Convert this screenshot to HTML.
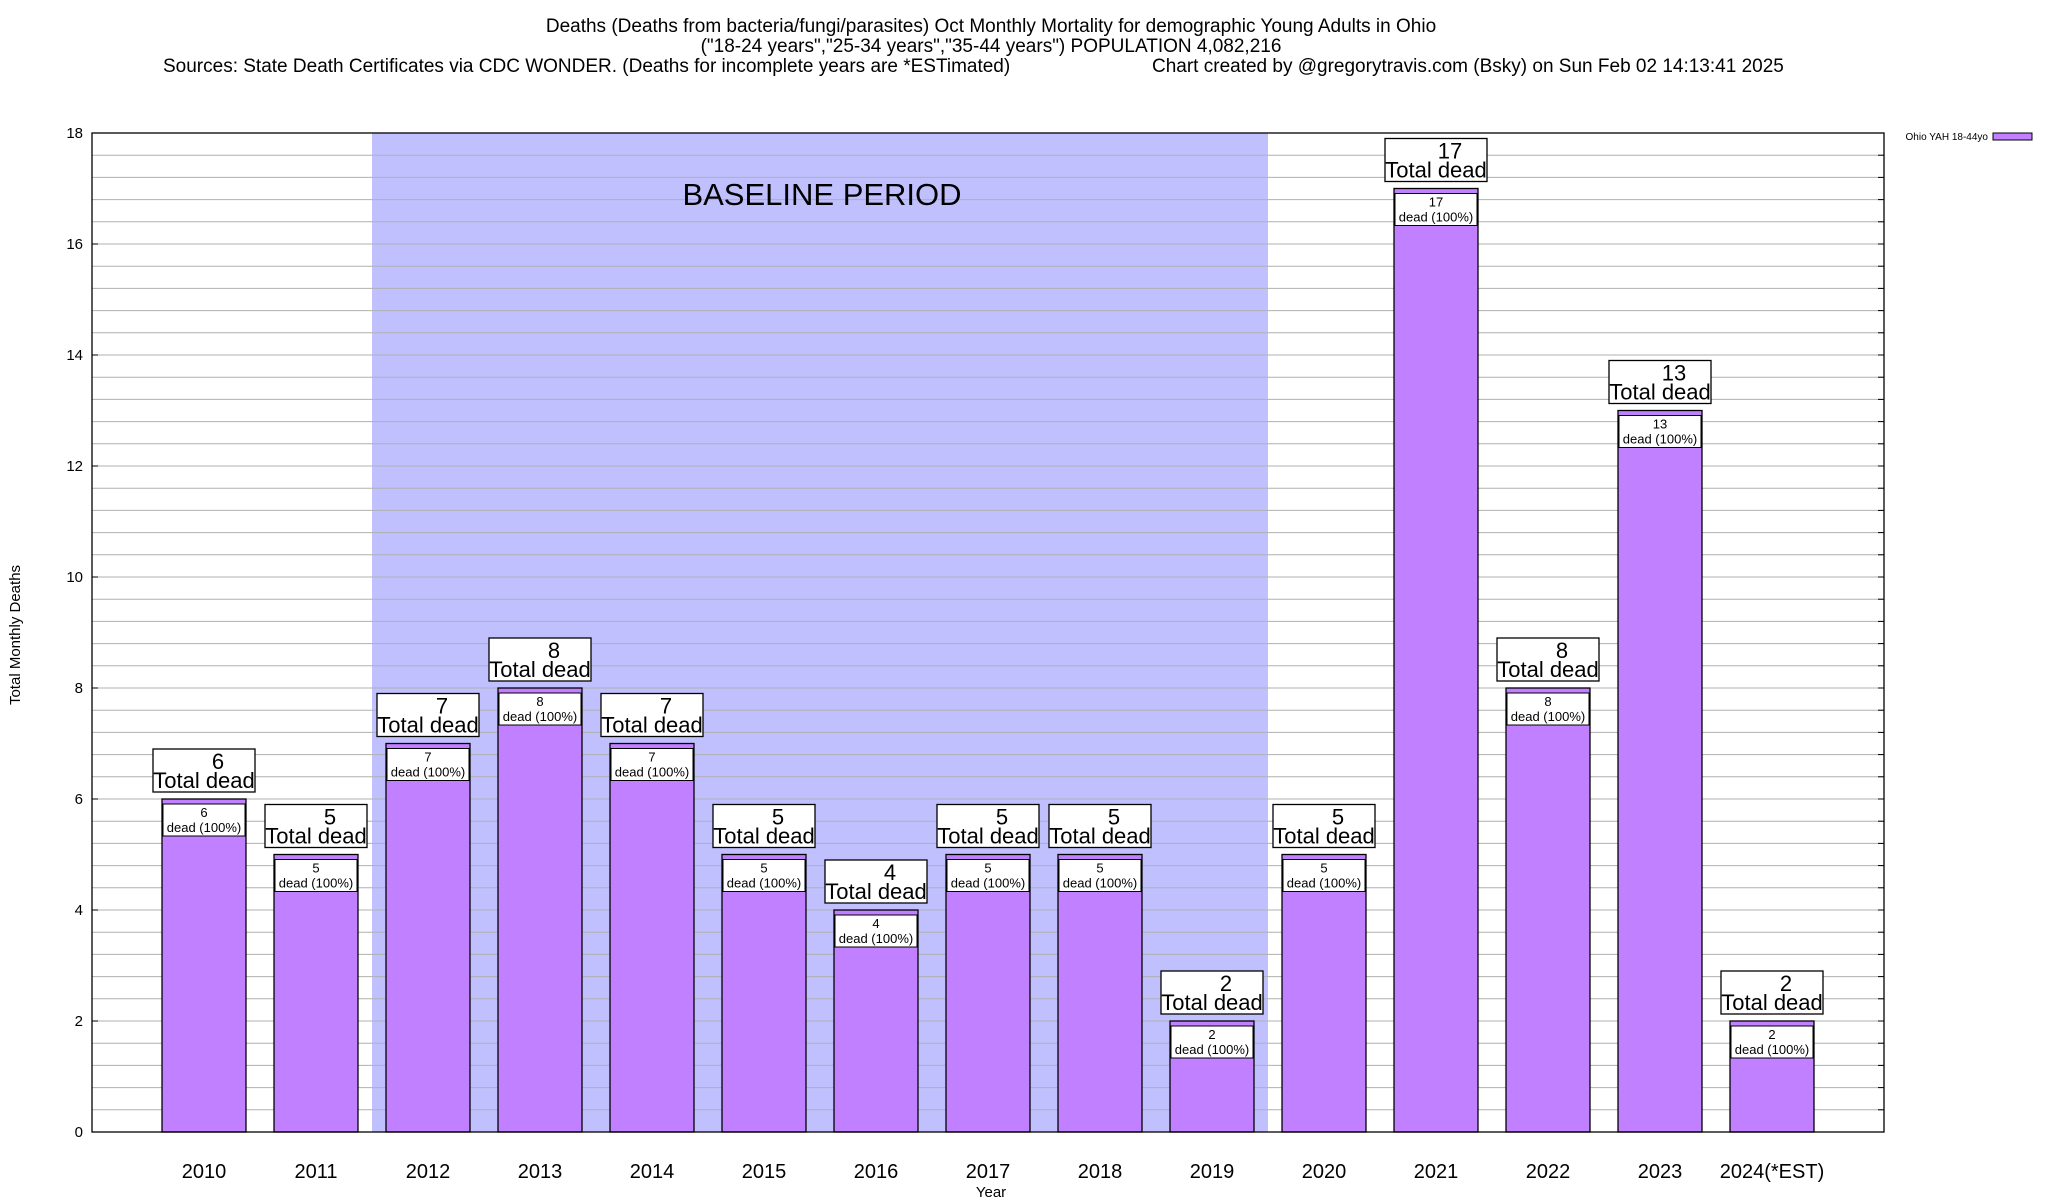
<!DOCTYPE html>
<html><head><meta charset="utf-8"><style>
html,body{margin:0;padding:0;background:#fff}
svg{display:block;font-family:"Liberation Sans",sans-serif}
</style></head><body>
<svg id="chart" width="2048" height="1200" viewBox="0 0 2048 1200" xmlns="http://www.w3.org/2000/svg">
<g font-size="19" text-anchor="middle" fill="#000">
<text x="991" y="32">Deaths (Deaths from bacteria/fungi/parasites) Oct Monthly Mortality for demographic Young Adults in Ohio</text>
<text x="991" y="52">("18-24 years","25-34 years","35-44 years") POPULATION 4,082,216</text>
<text x="163" y="72" text-anchor="start">Sources: State Death Certificates via CDC WONDER. (Deaths for incomplete years are *ESTimated)</text>
<text x="1152" y="72" text-anchor="start">Chart created by @gregorytravis.com (Bsky) on Sun Feb 02 14:13:41 2025</text>
</g>
<g id="plot"></g>
<text x="20" y="635" font-size="15" text-anchor="middle" transform="rotate(-90 20 635)">Total Monthly Deaths</text>
<text x="991" y="1197" font-size="15" text-anchor="middle">Year</text>
<g>
<text x="1988" y="140" font-size="10" text-anchor="end">Ohio YAH 18-44yo</text>
<rect x="1993" y="133" width="39" height="7" fill="#c080ff" stroke="#000" stroke-width="1"/>
</g>
</svg>
<script>
const categories = ["2010","2011","2012","2013","2014","2015","2016","2017","2018","2019","2020","2021","2022","2023","2024(*EST)"];
const deaths = [6,5,7,8,7,5,4,5,5,2,5,17,8,13,2];
const yTicks = [0,2,4,6,8,10,12,14,16,18];
const baselineStart = 1.5, baselineEnd = 9.5;

const L=92, R=1884, T=133, B=1132, yMax=18;
const xs = i => L + (i+1) * (R-L)/16;
const ys = v => B - v*(B-T)/yMax;
const NS="http://www.w3.org/2000/svg";
const plot=document.getElementById('plot');
function mk(tag, attrs, parent){const e=document.createElementNS(NS,tag);for(const k in attrs)e.setAttribute(k,attrs[k]);(parent||plot).appendChild(e);return e;}

const shade=mk('rect',{x:xs(baselineStart),y:T,width:xs(baselineEnd)-xs(baselineStart),height:B-T,fill:'#c0c0ff'});


for(let v=0; v<=yMax+0.001; v+=0.4){
  const y=ys(v);
  const g=mk('line',{x1:L,x2:R,y1:y,y2:y,stroke:'#b0b0b0','stroke-width':1});
  
  
  mk('line',{x1:R-6,x2:R,y1:y,y2:y,stroke:'#000','stroke-width':1});
}
const bt=mk('text',{x:822,y:205,'font-size':31,'text-anchor':'middle'});
bt.textContent='BASELINE PERIOD';


yTicks.forEach(v=>{
  const t=mk('text',{x:83,y:ys(v)+5,'font-size':15,'text-anchor':'end'});
  t.textContent=v;
  
  
  mk('line',{x1:L,x2:L+6,y1:ys(v),y2:ys(v),stroke:'#000'});
});
const bw=84;
categories.forEach((c,i)=>{
  const cx=xs(i), v=deaths[i], top=ys(v);
  const bar=mk('rect',{x:cx-bw/2,y:top,width:bw,height:B-top,fill:'#c080ff',stroke:'#000','stroke-width':1.3});
  
  
  const ib=mk('rect',{x:cx-41,y:top+5,width:82,height:32,fill:'#fff',stroke:'#000','stroke-width':1});
  
  
  const t1=mk('text',{x:cx,y:top+18,'font-size':13,'text-anchor':'middle'}); t1.textContent=v;
  const t2=mk('text',{x:cx,y:top+33,'font-size':13,'text-anchor':'middle'}); t2.textContent='dead (100%)';
  const ob=mk('rect',{x:cx-51,y:top-50,width:102,height:43,fill:'#fff',stroke:'#000','stroke-width':1.3});
  
  
  const t3=mk('text',{x:cx+14,y:top-30,'font-size':22,'text-anchor':'middle'}); t3.textContent=v;
  const t4=mk('text',{x:cx,y:top-11,'font-size':22,'text-anchor':'middle'}); t4.textContent='Total dead';
  const xl=mk('text',{x:cx,y:1178,'font-size':20,'text-anchor':'middle'}); xl.textContent=c;
  
  
});
const fr=mk('rect',{x:L,y:T,width:R-L,height:B-T,fill:'none',stroke:'#000','stroke-width':1.3});


</script>
</body></html>
